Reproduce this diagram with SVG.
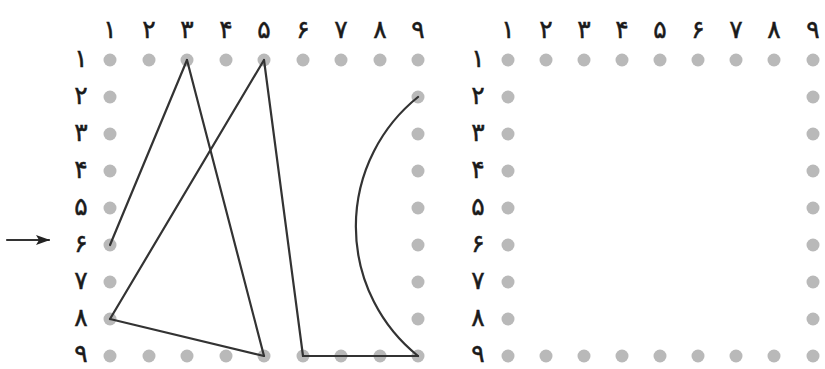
<svg xmlns="http://www.w3.org/2000/svg" width="825" height="369" viewBox="0 0 825 369">
<style>
.d{fill:#b9b9b9}
.t{font-family:"DejaVu Sans","Noto Sans",sans-serif;font-size:25px;font-weight:normal;fill:#1a1a1a;stroke:#1a1a1a;stroke-width:0.5;text-anchor:middle}
.l{stroke:#333;stroke-width:2.2;fill:none;stroke-linecap:round}
</style>
<defs>
<marker id="ah" viewBox="0 0 14 10" refX="13" refY="5" markerWidth="14" markerHeight="10" orient="auto" markerUnits="userSpaceOnUse"><path d="M0,0 L14,5 L0,10 L3,5 Z" fill="#222"/></marker>
</defs>
<rect width="825" height="369" fill="#fff"/>
<g id="left-grid">
<g id="left-col-labels" class="t">
<text x="110" y="38">۱</text><text x="149" y="38">۲</text><text x="187" y="38">۳</text><text x="226" y="38">۴</text><text x="264" y="38">۵</text><text x="303" y="38">۶</text><text x="341" y="38">۷</text><text x="380" y="38">۸</text><text x="418" y="38">۹</text>
</g>
<g id="left-row-labels" class="t">
<text x="81" y="67">۱</text><text x="81" y="104">۲</text><text x="81" y="141">۳</text><text x="81" y="178">۴</text><text x="81" y="215">۵</text><text x="81" y="252">۶</text><text x="81" y="289">۷</text><text x="81" y="326">۸</text><text x="81" y="362">۹</text>
</g>
<g id="left-dots" class="d">
<circle cx="110" cy="60" r="6.5"/><circle cx="149" cy="60" r="6.5"/><circle cx="187" cy="60" r="6.5"/><circle cx="226" cy="60" r="6.5"/><circle cx="264" cy="60" r="6.5"/><circle cx="303" cy="60" r="6.5"/><circle cx="341" cy="60" r="6.5"/><circle cx="380" cy="60" r="6.5"/><circle cx="418" cy="60" r="6.5"/>
<circle cx="110" cy="97" r="6.5"/><circle cx="110" cy="134" r="6.5"/><circle cx="110" cy="171" r="6.5"/><circle cx="110" cy="208" r="6.5"/><circle cx="110" cy="245" r="6.5"/><circle cx="110" cy="282" r="6.5"/><circle cx="110" cy="319" r="6.5"/>
<circle cx="418" cy="97" r="6.5"/><circle cx="418" cy="134" r="6.5"/><circle cx="418" cy="171" r="6.5"/><circle cx="418" cy="208" r="6.5"/><circle cx="418" cy="245" r="6.5"/><circle cx="418" cy="282" r="6.5"/><circle cx="418" cy="319" r="6.5"/>
<circle cx="110" cy="356" r="6.5"/><circle cx="149" cy="356" r="6.5"/><circle cx="187" cy="356" r="6.5"/><circle cx="226" cy="356" r="6.5"/><circle cx="264" cy="356" r="6.5"/><circle cx="303" cy="356" r="6.5"/><circle cx="341" cy="356" r="6.5"/><circle cx="380" cy="356" r="6.5"/><circle cx="418" cy="356" r="6.5"/>
</g>
</g>
<g id="right-grid">
<g id="right-col-labels" class="t">
<text x="508" y="38">۱</text><text x="546" y="38">۲</text><text x="584" y="38">۳</text><text x="622" y="38">۴</text><text x="660" y="38">۵</text><text x="698" y="38">۶</text><text x="736" y="38">۷</text><text x="774" y="38">۸</text><text x="813" y="38">۹</text>
</g>
<g id="right-row-labels" class="t">
<text x="478" y="67">۱</text><text x="478" y="104">۲</text><text x="478" y="141">۳</text><text x="478" y="178">۴</text><text x="478" y="215">۵</text><text x="478" y="252">۶</text><text x="478" y="289">۷</text><text x="478" y="326">۸</text><text x="478" y="362">۹</text>
</g>
<g id="right-dots" class="d">
<circle cx="508" cy="60" r="6.5"/><circle cx="546" cy="60" r="6.5"/><circle cx="584" cy="60" r="6.5"/><circle cx="622" cy="60" r="6.5"/><circle cx="660" cy="60" r="6.5"/><circle cx="698" cy="60" r="6.5"/><circle cx="736" cy="60" r="6.5"/><circle cx="774" cy="60" r="6.5"/><circle cx="813" cy="60" r="6.5"/>
<circle cx="508" cy="97" r="6.5"/><circle cx="508" cy="134" r="6.5"/><circle cx="508" cy="171" r="6.5"/><circle cx="508" cy="208" r="6.5"/><circle cx="508" cy="245" r="6.5"/><circle cx="508" cy="282" r="6.5"/><circle cx="508" cy="319" r="6.5"/>
<circle cx="813" cy="97" r="6.5"/><circle cx="813" cy="134" r="6.5"/><circle cx="813" cy="171" r="6.5"/><circle cx="813" cy="208" r="6.5"/><circle cx="813" cy="245" r="6.5"/><circle cx="813" cy="282" r="6.5"/><circle cx="813" cy="319" r="6.5"/>
<circle cx="508" cy="356" r="6.5"/><circle cx="546" cy="356" r="6.5"/><circle cx="584" cy="356" r="6.5"/><circle cx="622" cy="356" r="6.5"/><circle cx="660" cy="356" r="6.5"/><circle cx="698" cy="356" r="6.5"/><circle cx="736" cy="356" r="6.5"/><circle cx="774" cy="356" r="6.5"/><circle cx="813" cy="356" r="6.5"/>
</g>
</g>
<g id="connectors" class="l">
<line x1="187" y1="60" x2="110" y2="245"/>
<line x1="187" y1="60" x2="264" y2="356"/>
<line x1="264" y1="60" x2="110" y2="319"/>
<line x1="264" y1="60" x2="303" y2="356"/>
<line x1="110" y1="319" x2="264" y2="356"/>
<line x1="303" y1="356" x2="418" y2="356"/>
<path d="M418,97 A166,166 0 0 0 418,356"/>
<line x1="7" y1="240" x2="49" y2="240" marker-end="url(#ah)"/>
</g>
</svg>
